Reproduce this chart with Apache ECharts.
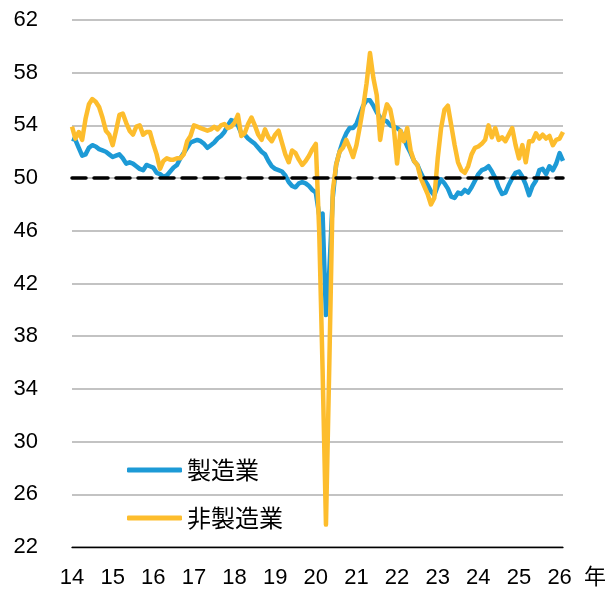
<!DOCTYPE html>
<html>
<head>
<meta charset="utf-8">
<script src="https://cdn.jsdelivr.net/npm/echarts@6/dist/echarts.min.js"></script>
<style>
html,body{margin:0;padding:0;background:#fff;}
#chart{width:609px;height:590px;}
</style>
</head>
<body>
<div id="chart"></div>
<script>
// Year tick labels (two-digit years), monthly categories start in Jan 2014
const yearLabels = ['14','15','16','17','18','19','20','21','22','23','24','25','26'];
const seriesNames = ['製造業', '非製造業'];

// 製造業 (manufacturing), monthly from 2014-01
const manufacturing = [
  53.0, 52.9, 52.3, 51.7, 51.8, 52.3, 52.5, 52.4, 52.2, 52.1, 52.0, 51.8,
  51.6, 51.7, 51.8, 51.5, 51.1, 51.2, 51.1, 50.9, 50.7, 50.6, 51.0, 50.9,
  50.8, 50.4, 50.3, 50.1, 50.2, 50.5, 50.8, 51.0, 51.5, 51.9, 52.3, 52.7,
  52.8, 52.9, 52.8, 52.6, 52.3, 52.5, 52.7, 53.0, 53.2, 53.5, 54.0, 54.4,
  54.3, 54.0, 53.4, 53.3, 53.0, 52.8, 52.6, 52.3, 52.0, 51.8, 51.3, 50.9,
  50.7, 50.6, 50.5, 50.2, 49.7, 49.4, 49.3, 49.6, 49.7, 49.6, 49.4, 49.1,
  48.9, 47.2, 47.3, 39.6, 43.0, 48.5, 51.0, 52.0, 52.8, 53.4, 53.8, 53.8,
  54.1, 54.8, 55.5, 55.9, 55.9, 55.5, 55.0, 54.6, 54.4, 54.3, 54.0, 53.9,
  53.8, 53.6, 53.0, 52.4, 51.9, 51.3, 51.0, 50.4, 49.9, 49.5, 49.0, 48.7,
  49.4, 49.9, 49.6, 49.2, 48.6, 48.5, 48.9, 48.8, 49.1, 48.9, 49.3, 49.8,
  50.3, 50.6, 50.7, 50.9, 50.5, 50.0, 49.3, 48.8, 48.9, 49.5, 50.0, 50.4,
  50.5, 50.1, 49.5, 48.7, 49.4, 49.8, 50.6, 50.7, 50.3, 50.9, 50.6, 51.1,
  51.9, 51.3
];

// 非製造業 (non-manufacturing), monthly from 2014-01
const nonManufacturing = [
  53.9, 53.0, 53.5, 52.9, 54.5, 55.6, 56.0, 55.8, 55.4, 54.6, 53.6, 53.3,
  52.5, 53.6, 54.8, 54.9, 54.2, 53.6, 53.3, 53.9, 54.0, 53.3, 53.5, 53.5,
  52.6, 51.8, 50.7, 51.3, 51.5, 51.4, 51.4, 51.5, 51.5, 51.8, 52.8, 53.2,
  54.0, 53.9, 53.8, 53.7, 53.6, 53.7, 53.9, 53.7, 54.0, 54.1, 53.8, 53.9,
  54.2, 54.8, 53.2, 53.4, 54.1, 54.6, 54.0, 53.3, 52.9, 53.7, 53.1, 52.8,
  53.3, 53.6, 52.7, 51.8, 51.2, 52.1, 51.9, 51.4, 51.0, 51.3, 51.7, 52.2,
  52.6, 46.0, 35.5, 23.7, 36.0, 49.0, 51.0, 52.0, 52.3, 52.9, 52.3, 51.6,
  52.5, 53.9, 55.4, 57.2, 59.5, 57.6, 56.3, 52.9, 54.6, 55.6, 55.2, 53.9,
  51.1, 53.6, 52.8, 53.8, 52.1, 51.3, 51.0, 50.0, 49.4, 48.8, 48.0, 48.5,
  51.5, 53.8, 55.2, 55.5, 54.0, 52.5, 51.2, 50.6, 50.4, 50.9, 51.8, 52.3,
  52.4, 52.6, 52.9, 54.0, 53.1, 53.8, 52.9, 53.1, 52.8, 53.3, 53.8, 52.5,
  51.5, 52.5, 51.2, 52.8, 52.8, 53.4, 53.0, 53.3, 53.0, 53.2, 52.5, 52.9,
  53.0, 53.5
];

const referenceLevel = 50;
const yMin = 22, yMax = 62, yStep = 4;

// monthly category labels
const months = [];
for (const y of yearLabels) {
  for (let m = 1; m <= 12; m++) {
    months.push(y + '-' + (m < 10 ? '0' + m : m));
  }
}
const categories = months.slice(0, manufacturing.length);

const FONT = '"Liberation Sans", Arial, "Noto Sans CJK JP", sans-serif';
const CJK = '"Noto Sans CJK JP", "Liberation Sans", sans-serif';

const chart = echarts.init(document.getElementById('chart'), null, {renderer: 'canvas'});
chart.setOption({
  animation: false,
  backgroundColor: '#ffffff',
  grid: {left: 72, right: 45, top: 20, bottom: 43, containLabel: false},
  legend: {
    data: seriesNames,
    orient: 'vertical',
    left: 122,
    top: 453,
    itemWidth: 55,
    itemHeight: 5,
    itemGap: 24,
    icon: 'roundRect',
    textStyle: {fontFamily: CJK, fontSize: 24, color: '#000', padding: [0, 0, 0, 0]}
  },
  xAxis: {
    type: 'category',
    data: categories,
    boundaryGap: false,
    axisLine: {lineStyle: {color: '#000', width: 1.3}},
    axisTick: {show: false},
    splitLine: {show: false},
    axisLabel: {
      interval: function (i) { return i % 12 === 0; },
      formatter: function (v) { return v.slice(0, 2); },
      margin: 20,
      fontFamily: FONT,
      fontSize: 22,
      color: '#000'
    },
    name: '年',
    nameLocation: 'end',
    nameGap: 21,
    nameTextStyle: {fontFamily: CJK, fontSize: 22, color: '#000', verticalAlign: 'top', padding: [18, 0, 0, 0]}
  },
  yAxis: {
    type: 'value',
    min: yMin,
    max: yMax,
    interval: yStep,
    axisLine: {show: false},
    axisTick: {show: false},
    splitLine: {lineStyle: {color: '#c3c3c3', width: 2}},
    axisLabel: {margin: 34, fontFamily: FONT, fontSize: 22, color: '#000'}
  },
  series: [
    {
      name: seriesNames[0],
      type: 'line',
      data: manufacturing,
      showSymbol: false,
      symbol: 'none',
      itemStyle: {color: '#1d9ad6'},
      lineStyle: {color: '#1d9ad6', width: 4.5, join: 'round'}
    },
    {
      name: seriesNames[1],
      type: 'line',
      data: nonManufacturing,
      showSymbol: false,
      symbol: 'none',
      itemStyle: {color: '#fdbd2d'},
      lineStyle: {color: '#fdbd2d', width: 4.5, join: 'round'},
      markLine: {
        silent: true,
        symbol: ['none', 'none'],
        label: {show: false},
        lineStyle: {color: '#000', type: [14, 8], width: 3.5, cap: 'round'},
        data: [{yAxis: referenceLevel}]
      }
    }
  ]
});
</script>
</body>
</html>
